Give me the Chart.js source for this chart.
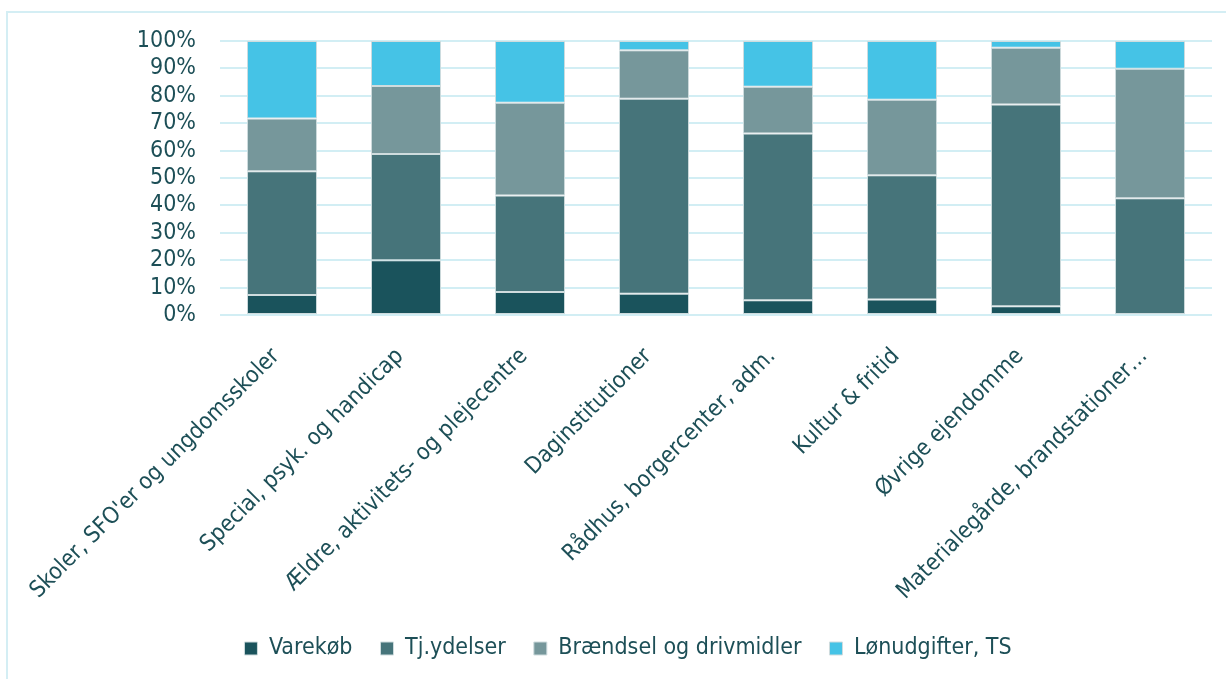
<!DOCTYPE html>
<html>
<head>
<meta charset="utf-8">
<script src="https://cdn.jsdelivr.net/npm/chart.js@4.4.1/dist/chart.umd.min.js"></script>
<style>
  html, body { margin: 0; padding: 0; background: #fff; }
  #wrap { position: relative; width: 1226px; height: 679px; overflow: hidden; }
  #frame { position: absolute; left: 6px; top: 11px; width: 1260px; height: 720px;
           border-left: 2px solid #d4eef4; border-top: 2px solid #d4eef4; }
  canvas { position: absolute; left: 0; top: 0; }
</style>
</head>
<body>
<div id="wrap">
  <div id="frame"></div>
  <canvas id="costChart" width="1226" height="679"></canvas>
</div>
<script>
const categories = [
  'Skoler, SFO\'er og ungdomsskoler',
  'Special, psyk. og handicap',
  'Ældre, aktivitets- og plejecentre',
  'Daginstitutioner',
  'Rådhus, borgercenter, adm.',
  'Kultur & fritid',
  'Øvrige ejendomme',
  'Materialegårde, brandstationer…'
];
const varekob     = [7.3, 20.0, 8.4, 7.8, 5.4, 5.7, 3.2, 0];
const tjydelser   = [45.2, 38.8, 35.2, 71.1, 60.8, 45.3, 73.6, 42.6];
const braendsel   = [19.2, 24.8, 33.9, 17.7, 17.1, 27.6, 20.7, 47.3];
const lonudgifter = [28.3, 16.4, 22.5, 3.4, 16.7, 21.4, 2.5, 10.1];
const yTicks = [0, 10, 20, 30, 40, 50, 60, 70, 80, 90, 100];

const textColor = '#1d4f57';
const fontFamily = '"DejaVu Sans Condensed", "DejaVu Sans", sans-serif';

const makeSet = (label, data, color) => ({
  label,
  data,
  backgroundColor: color,
  borderColor: '#cfdcde',
  borderWidth: 1,
  borderSkipped: false,
  barPercentage: 0.565,
  categoryPercentage: 1
});

new Chart(document.getElementById('costChart'), {
  type: 'bar',
  data: {
    labels: categories,
    datasets: [
      makeSet('Varekøb', varekob, '#1a535c'),
      makeSet('Tj.ydelser', tjydelser, '#46747a'),
      makeSet('Brændsel og drivmidler', braendsel, '#76979b'),
      makeSet('Lønudgifter, TS', lonudgifter, '#45c3e6')
    ]
  },
  options: {
    responsive: false,
    animation: false,
    layout: { padding: { top: 41, right: 14, left: 44, bottom: 9 } },
    plugins: {
      tooltip: { enabled: false },
      legend: {
        position: 'bottom',
        labels: {
          color: textColor,
          font: { family: fontFamily, size: 23 },
          boxWidth: 13,
          boxHeight: 13,
          padding: 28
        }
      }
    },
    scales: {
      x: {
        stacked: true,
        grid: { display: false },
        border: { display: false },
        ticks: {
          color: textColor,
          font: { family: fontFamily, size: 23 },
          minRotation: 45,
          maxRotation: 45,
          autoSkip: false,
          padding: 20,
          labelOffset: -6
        },
        afterFit: s => { s.height = 294; }
      },
      y: {
        stacked: true,
        min: 0,
        max: 100,
        afterBuildTicks: s => { s.ticks = yTicks.map(v => ({ value: v })); },
        grid: { color: '#d2eef4', lineWidth: 2, drawTicks: false },
        border: { display: false },
        ticks: {
          color: textColor,
          font: { family: fontFamily, size: 23 },
          padding: 24,
          autoSkip: false,
          callback: v => v + '%'
        },
        afterFit: s => { s.width = 176; }
      }
    }
  }
});
</script>
</body>
</html>
